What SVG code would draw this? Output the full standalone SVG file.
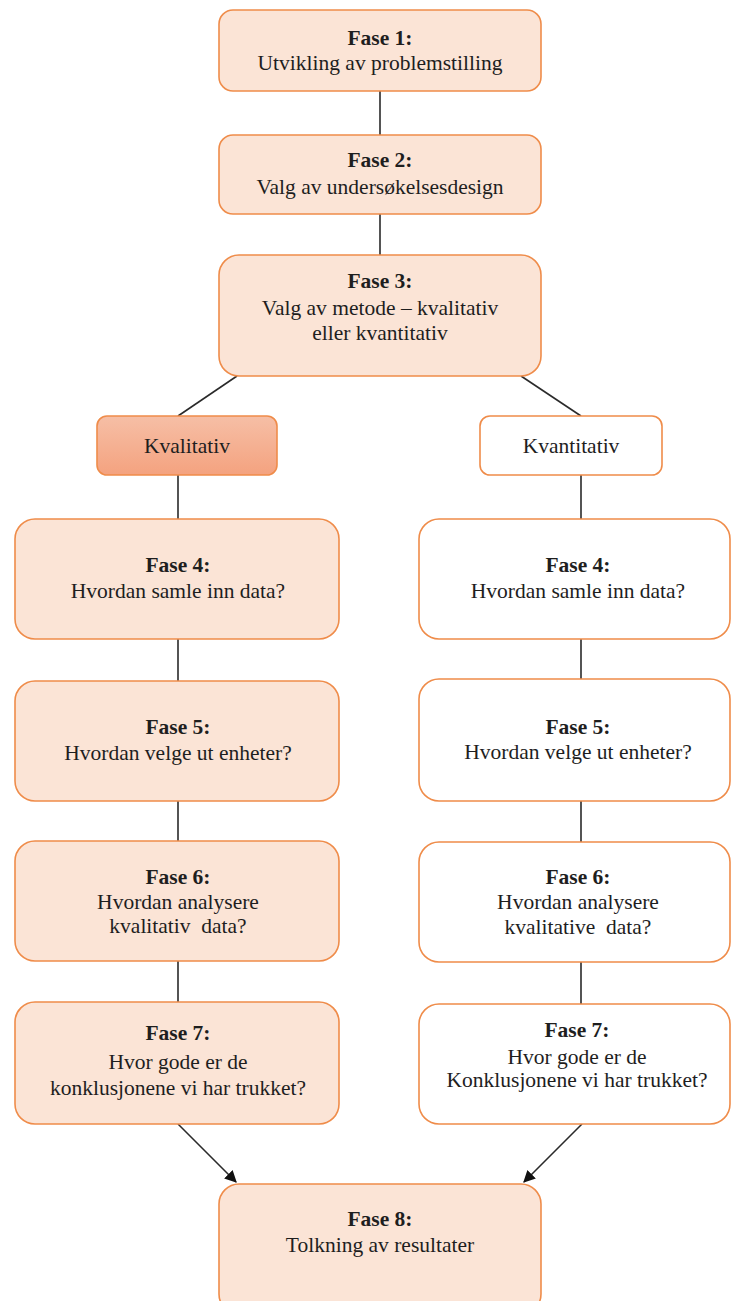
<svg xmlns="http://www.w3.org/2000/svg" width="731" height="1301" viewBox="0 0 731 1301">
  <defs>
    <linearGradient id="gradKval" x1="0" y1="0" x2="0" y2="1">
      <stop offset="0" stop-color="#f6bfa6"/>
      <stop offset="1" stop-color="#f4a27f"/>
    </linearGradient>
    <marker id="arrow" viewBox="0 0 10 10" refX="9" refY="5" markerWidth="12" markerHeight="12" orient="auto-start-reverse" markerUnits="userSpaceOnUse">
      <path d="M0,0 L10,5 L0,10 z" fill="#111"/>
    </marker>
  </defs>
  <style>
    .box { fill: #fbe4d6; stroke: #ef8c4a; stroke-width: 1.6; }
    .plain { fill: #ffffff; stroke: #ef8c4a; stroke-width: 1.6; }
    .sel { fill: url(#gradKval); stroke: #ef8c4a; stroke-width: 1.6; }
    .conn { stroke: #2a2a2a; stroke-width: 1.6; fill: none; }
    .t { font-family: 'Liberation Serif', 'Times New Roman', Tinos, 'Noto Serif', 'DejaVu Serif', serif; font-size: 21.5px; fill: #1e1e1e; text-anchor: middle; }
    .b { font-weight: bold; }
  </style>

  <rect width="731" height="1301" fill="#ffffff"/>

  <g id="connectors">
    <line class="conn" x1="380" y1="91" x2="380" y2="135"/>
    <line class="conn" x1="380" y1="214" x2="380" y2="255"/>
    <line class="conn" x1="237" y1="376" x2="178" y2="416"/>
    <line class="conn" x1="521" y1="376" x2="581" y2="416"/>
    <line class="conn" x1="178" y1="475" x2="178" y2="519"/>
    <line class="conn" x1="178" y1="639" x2="178" y2="681"/>
    <line class="conn" x1="178" y1="801" x2="178" y2="841"/>
    <line class="conn" x1="178" y1="961" x2="178" y2="1002"/>
    <line class="conn" x1="581" y1="475" x2="581" y2="519"/>
    <line class="conn" x1="581" y1="639" x2="581" y2="679"/>
    <line class="conn" x1="581" y1="801" x2="581" y2="842"/>
    <line class="conn" x1="581" y1="962" x2="581" y2="1004"/>
    <line class="conn" x1="178" y1="1124" x2="236" y2="1182" marker-end="url(#arrow)"/>
    <line class="conn" x1="582" y1="1124" x2="524" y2="1182" marker-end="url(#arrow)"/>
  </g>

  <g id="fase1">
    <rect class="box" x="219" y="10" width="322" height="81" rx="14"/>
    <text class="t b" x="380" y="45">Fase 1:</text>
    <text class="t" x="380" y="70">Utvikling av problemstilling</text>
  </g>

  <g id="fase2">
    <rect class="box" x="219" y="135" width="322" height="79" rx="14"/>
    <text class="t b" x="380" y="167">Fase 2:</text>
    <text class="t" x="380" y="194">Valg av undersøkelsesdesign</text>
  </g>

  <g id="fase3">
    <rect class="box" x="219" y="255" width="322" height="121" rx="20"/>
    <text class="t b" x="380" y="288">Fase 3:</text>
    <text class="t" x="380" y="315">Valg av metode – kvalitativ</text>
    <text class="t" x="380" y="340">eller kvantitativ</text>
  </g>

  <g id="kvalitativ">
    <rect class="sel" x="97" y="416" width="180" height="59" rx="10"/>
    <text class="t" x="187" y="453">Kvalitativ</text>
  </g>

  <g id="kvantitativ">
    <rect class="plain" x="480" y="416" width="182" height="59" rx="10"/>
    <text class="t" x="571" y="453">Kvantitativ</text>
  </g>

  <g id="kval-fase4">
    <rect class="box" x="15" y="519" width="324" height="120" rx="20"/>
    <text class="t b" x="178" y="572">Fase 4:</text>
    <text class="t" x="178" y="598">Hvordan samle inn data?</text>
  </g>

  <g id="kval-fase5">
    <rect class="box" x="15" y="681" width="324" height="120" rx="20"/>
    <text class="t b" x="178" y="734">Fase 5:</text>
    <text class="t" x="178" y="760">Hvordan velge ut enheter?</text>
  </g>

  <g id="kval-fase6">
    <rect class="box" x="15" y="841" width="324" height="120" rx="20"/>
    <text class="t b" x="178" y="884">Fase 6:</text>
    <text class="t" x="178" y="909">Hvordan analysere</text>
    <text class="t" x="178" y="933" xml:space="preserve">kvalitativ  data?</text>
  </g>

  <g id="kval-fase7">
    <rect class="box" x="15" y="1002" width="324" height="122" rx="20"/>
    <text class="t b" x="178" y="1040">Fase 7:</text>
    <text class="t" x="178" y="1069">Hvor gode er de</text>
    <text class="t" x="178" y="1095">konklusjonene vi har trukket?</text>
  </g>

  <g id="kvant-fase4">
    <rect class="plain" x="419" y="519" width="311" height="120" rx="20"/>
    <text class="t b" x="578" y="572">Fase 4:</text>
    <text class="t" x="578" y="598">Hvordan samle inn data?</text>
  </g>

  <g id="kvant-fase5">
    <rect class="plain" x="419" y="679" width="311" height="122" rx="20"/>
    <text class="t b" x="578" y="734">Fase 5:</text>
    <text class="t" x="578" y="759">Hvordan velge ut enheter?</text>
  </g>

  <g id="kvant-fase6">
    <rect class="plain" x="419" y="842" width="311" height="120" rx="20"/>
    <text class="t b" x="578" y="884">Fase 6:</text>
    <text class="t" x="578" y="909">Hvordan analysere</text>
    <text class="t" x="578" y="934" xml:space="preserve">kvalitative  data?</text>
  </g>

  <g id="kvant-fase7">
    <rect class="plain" x="419" y="1004" width="311" height="120" rx="20"/>
    <text class="t b" x="577" y="1037">Fase 7:</text>
    <text class="t" x="577" y="1064">Hvor gode er de</text>
    <text class="t" x="577" y="1087">Konklusjonene vi har trukket?</text>
  </g>

  <g id="fase8">
    <rect class="box" x="219" y="1184" width="322" height="130" rx="20"/>
    <text class="t b" x="380" y="1226">Fase 8:</text>
    <text class="t" x="380" y="1252">Tolkning av resultater</text>
  </g>
</svg>
